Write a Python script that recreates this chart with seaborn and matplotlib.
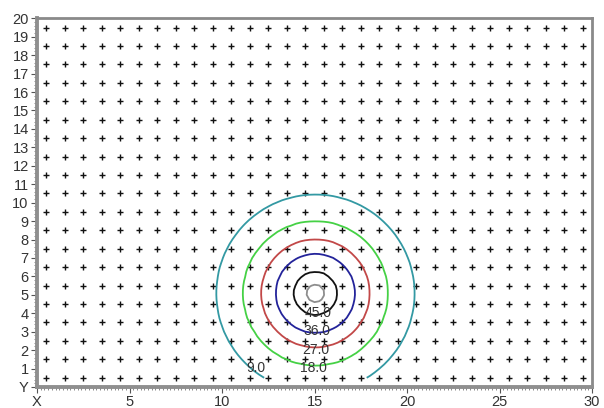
import numpy as np
import pandas as pd
import matplotlib
matplotlib.use('Agg')
import matplotlib.pyplot as plt
import seaborn as sns
from matplotlib.ticker import MultipleLocator

# --- dados ---
# grade de pontos de cálculo (cruzes), espaçamento de 1 unidade
grid_x = np.arange(0.5, 30.0, 1.0)
grid_y = np.arange(0.5, 20.0, 1.0)

# grade mais fina usada para traçar as isolinhas
calc_x = np.arange(0.5, 29.6, 0.25)
calc_y = np.arange(0.5, 19.6, 0.25)

# centro do pico e perfil radial (raio -> valor) estimado a partir das isolinhas
peak_x = 15.05
peak_y = 5.08
profile_r = [0.0, 0.6, 1.15, 2.15, 2.92, 3.9, 5.35, 6.6, 9.0, 40.0]
profile_v = [58.0, 53.0, 45.0, 36.0, 27.0, 18.0, 9.0, 2.5, 0.5, 0.0]

# níveis das isolinhas e cores
levels = [9.0, 18.0, 27.0, 36.0, 45.0, 54.0]
level_colors = ['#3399a3', '#45d145', '#c24848', '#23239a', '#111111', '#8e8e8e']

# rótulos das isolinhas
label_levels = [9.0, 18.0, 27.0, 36.0, 45.0]
label_x = [11.84, 14.93, 15.09, 15.14, 15.2]
label_y = [1.03, 1.03, 2.0, 3.04, 4.02]

# eixos
x_ticks = [0, 5, 10, 15, 20, 25, 30]
x_tick_labels = ['X', '5', '10', '15', '20', '25', '30']
y_ticks = list(range(0, 21))
y_tick_labels = ['Y'] + [str(i) for i in range(1, 21)]

sns.set_theme(style='white')
plt.rcParams['font.family'] = ['Liberation Sans', 'DejaVu Sans']

fig = plt.figure(figsize=(6.04, 4.08), dpi=100)
ax = fig.add_axes([37 / 604, 21 / 408, 555 / 604, 368.7 / 408])

# pontos da grade
gx, gy = np.meshgrid(grid_x, grid_y)
pontos = pd.DataFrame({'x': gx.ravel(), 'y': gy.ravel()})
sns.scatterplot(data=pontos, x='x', y='y', marker='+', color='#111111',
                s=14, linewidth=1.0, ax=ax, zorder=1, legend=False)

# campo e isolinhas
cx, cy = np.meshgrid(calc_x, calc_y)
r = np.hypot(cx - peak_x, cy - peak_y)
z = np.interp(r, profile_r, profile_v)
ax.contour(cx, cy, z, levels=levels, colors=level_colors, linewidths=1.3, zorder=2)

for lv, lx, ly in zip(label_levels, label_x, label_y):
    ax.text(lx, ly, f'{lv:.1f}', ha='center', va='center', fontsize=10,
            color='#333333', zorder=3)

ax.set_xlim(0, 30)
ax.set_ylim(0, 20)
ax.set_xlabel('')
ax.set_ylabel('')
ax.set_xticks(x_ticks)
ax.set_xticklabels(x_tick_labels)
ax.set_yticks(y_ticks)
ax.set_yticklabels(y_tick_labels)
ax.xaxis.set_minor_locator(MultipleLocator(0.2))
ax.yaxis.set_minor_locator(MultipleLocator(0.2))
ax.tick_params(axis='both', which='major', length=4, width=0.8, color='#555555',
               labelsize=10.5, labelcolor='#333333', direction='out')
ax.tick_params(axis='both', which='minor', length=2, width=0.6, color='#777777',
               direction='out')
ax.tick_params(axis='x', which='both', bottom=True, top=False, pad=2)
ax.tick_params(axis='y', which='both', left=True, right=False, pad=2)

for lado in ['top', 'right']:
    ax.spines[lado].set_color('#8a8a8a')
    ax.spines[lado].set_linewidth(2.0)
for lado in ['left', 'bottom']:
    ax.spines[lado].set_color('#8f8f8f')
    ax.spines[lado].set_linewidth(2.8)

fig.savefig('out.png', dpi=100)
